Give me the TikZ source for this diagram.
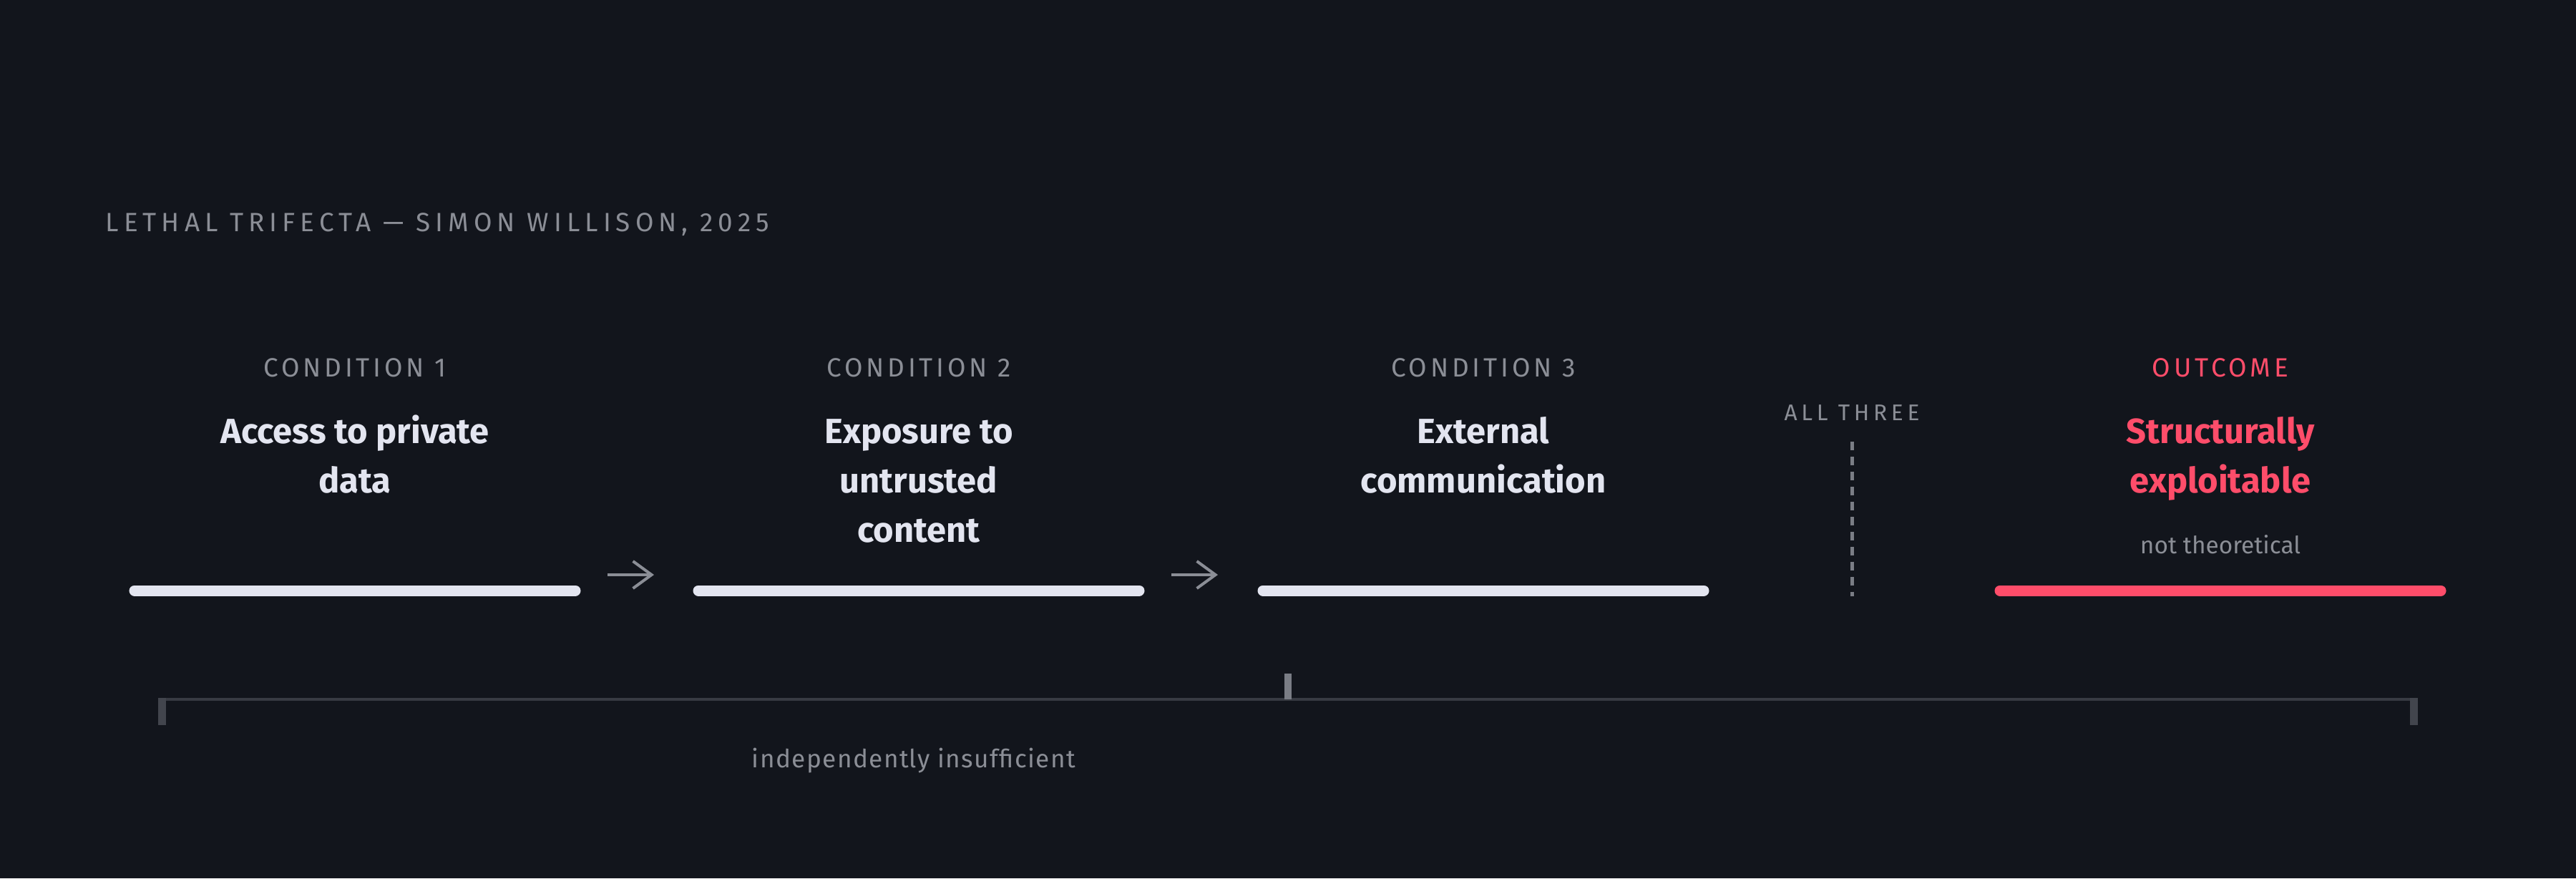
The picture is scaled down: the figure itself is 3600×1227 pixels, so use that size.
\documentclass[tikz,border=0pt]{standalone}
\usepackage{fontspec}
\setmainfont{Fira Sans}
\usetikzlibrary{arrows.meta}
\definecolor{bg}{HTML}{12151C}
\definecolor{ink}{HTML}{E3E5F0}
\definecolor{muted}{HTML}{8B8E96}
\definecolor{hot}{HTML}{FF4D6A}
\definecolor{rulegray}{HTML}{383B43}
\definecolor{tickgray}{HTML}{42454D}
\definecolor{midgray}{HTML}{7A7D85}
\tikzstyle{caps}=[text=muted,inner sep=0pt,anchor=base,font=\fontsize{10.5}{12}\selectfont\addfontfeature{LetterSpace=13}]
\tikzstyle{cond}=[text=ink,inner sep=0pt,anchor=base,align=center,font=\fontsize{13.9}{19.6}\selectfont\bfseries]
\tikzstyle{note}=[text=muted,inner sep=0pt,anchor=base,font=\fontsize{9.5}{11}\selectfont]
\tikzstyle{bar}=[draw=ink,line width=4.27pt,line cap=round]
\tikzstyle{flow}=[draw=muted,line width=1.14pt,-{Straight Barb[length=7.4pt,width=10.8pt]}]
\tikzstyle{divider}=[draw=midgray,line width=1.42pt,dash pattern=on 3.4pt off 2.56pt]
\tikzstyle{span}=[draw=rulegray,line width=1.14pt]
\tikzstyle{spantick}=[draw=tickgray,line width=3.13pt]

\begin{document}
\begin{tikzpicture}[x=0.01cm,y=-0.01cm]
  \fill[bg] (0,0) rectangle (3600,1227);
  \useasboundingbox (0,0) rectangle (3600,1227);

  \node[caps,anchor=base west,font=\fontsize{10.5}{12}\selectfont\addfontfeature{LetterSpace=19}] (title) at (147,323) {LETHAL TRIFECTA — SIMON WILLISON, 2025};

  % the three conditions and the outcome (base anchor sits on the last line)
  \path (496,825) coordinate (c1)
      ++(0,-299) node[caps] (cond1) {CONDITION 1}
      ++(0,162) node[cond] (name1) {Access to private\\data};
  \path (1284,825) coordinate (c2)
      ++(0,-299) node[caps] (cond2) {CONDITION 2}
      ++(0,231) node[cond] (name2) {Exposure to\\untrusted\\content};
  \path (2073,825) coordinate (c3)
      ++(0,-299) node[caps] (cond3) {CONDITION 3}
      ++(0,162) node[cond] (name3) {External\\communication};
  \path (3103,825) coordinate (c4)
      ++(0,-299) node[caps,text=hot] (outcome) {OUTCOME}
      ++(0,162) node[cond,text=hot] (result) {Structurally\\exploitable}
      (c4) ++(0,-52) node[note] (nottheory) {not theoretical};

  \draw[bar] (c1) ++(-308,0) -- ++(616,0);
  \draw[bar] (c2) ++(-308,0) -- ++(616,0);
  \draw[bar] (c3) ++(-308,0) -- ++(616,0);
  \draw[bar,draw=hot] (c4) ++(-308,0) -- ++(616,0);

  \path (849,803) coordinate (flow1a) ++(65,0) coordinate (flow1b)
        (1637,803) coordinate (flow2a) ++(65,0) coordinate (flow2b);
  \draw[flow] (flow1a) -- (flow1b);
  \draw[flow] (flow2a) -- (flow2b);

  % all three together
  \node[caps,font=\fontsize{9}{10}\selectfont\addfontfeature{LetterSpace=18}] (allthree) at (2588,587) {ALL THREE};
  \draw[divider] (2588,617) -- (2588,833);

  % bracket below
  \path (221,977) coordinate (spanl) (3379,977) coordinate (spanr) (1800,977) coordinate (spanm);
  \draw[span] (spanl) -- (spanr);
  \draw[spantick] (spanl) ++(5.5,-2) -- ++(0,38);
  \draw[spantick] (spanr) ++(-5.5,-2) -- ++(0,38);
  \draw[spantick,draw=midgray,line width=2.85pt] (spanm) -- ++(0,-36);
  \node[note,font=\fontsize{10}{12}\selectfont\addfontfeature{LetterSpace=4}] (insuff) at (1277,1072) {independently insufficient};
\end{tikzpicture}
\end{document}
